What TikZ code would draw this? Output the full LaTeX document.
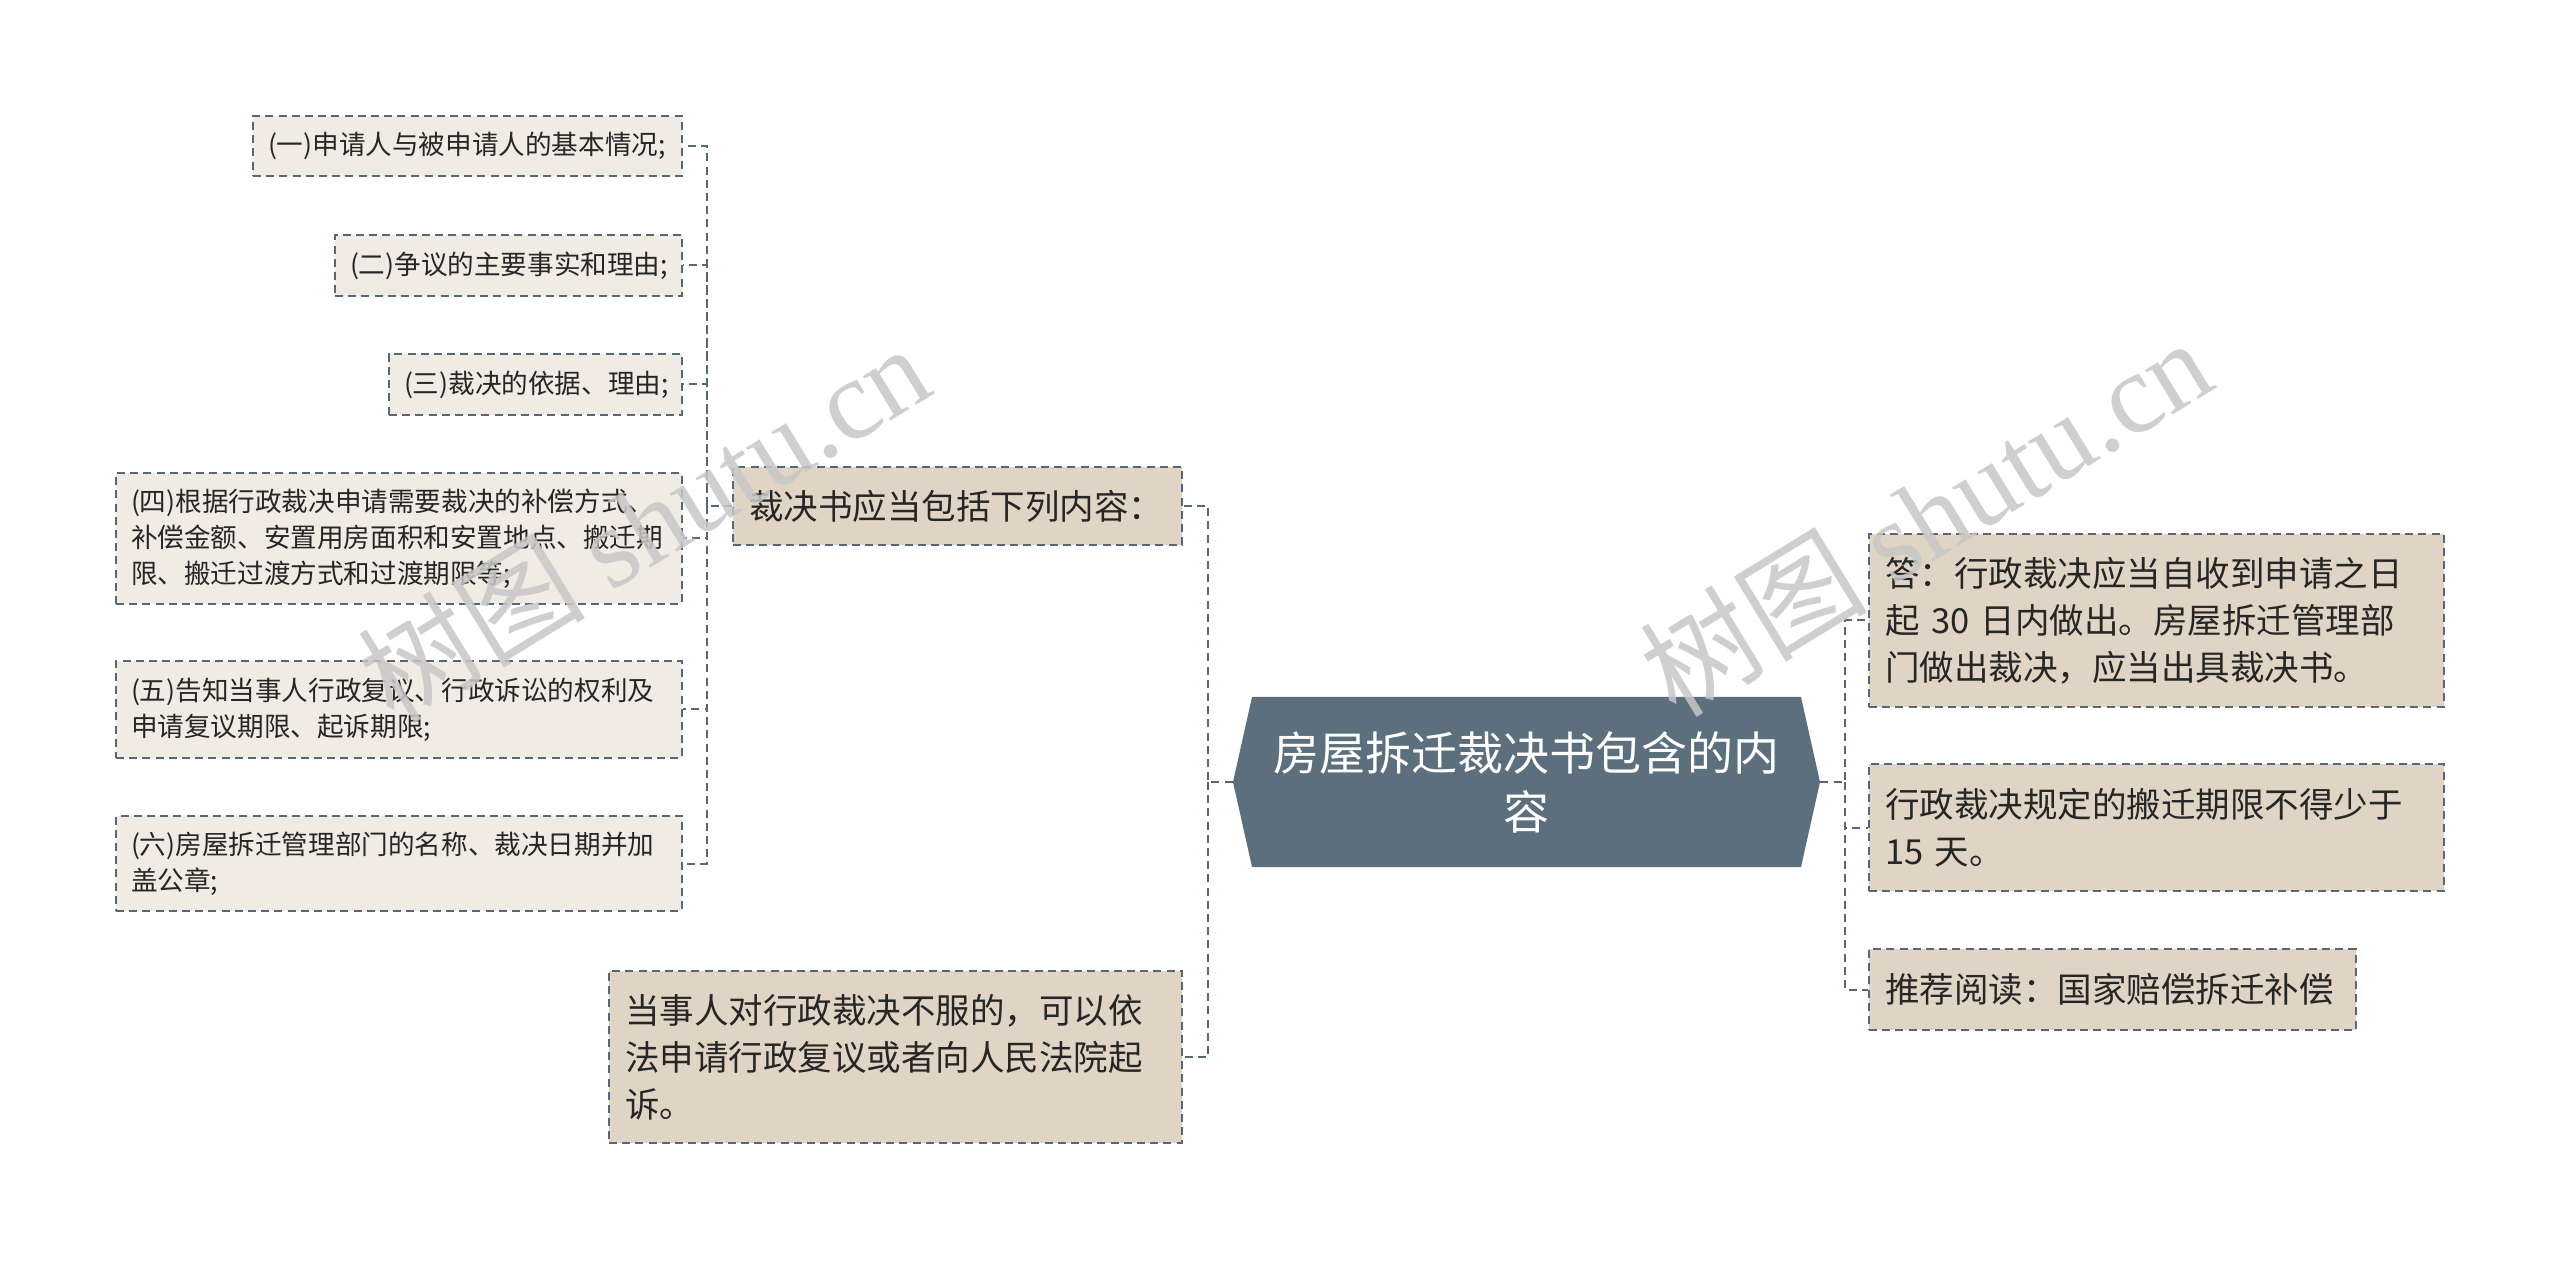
\documentclass[tikz,border=0pt]{standalone}
\usepackage{fontspec}
\setmainfont{Noto Sans CJK SC}
\newfontfamily\wmserif{Liberation Serif}
\definecolor{linec}{HTML}{56677A}
\definecolor{hexc}{HTML}{5C6F7C}
\definecolor{lightbox}{HTML}{F0ECE4}
\definecolor{darkbox}{HTML}{E0D5C4}
\definecolor{txtc}{HTML}{262626}
\begin{document}
\begin{tikzpicture}[x=0.5pt,y=-0.5pt,
  dsh/.style={dash pattern=on 4pt off 2.6pt, line width=1pt},
  smallbox/.style={draw=linec, dsh, fill=lightbox, inner xsep=7.5pt, inner ysep=0pt,
     align=left, text=txtc, font=\fontsize{13.3pt}{18pt}\selectfont},
  bigbox/.style={draw=linec, dsh, fill=darkbox, inner xsep=8pt, inner ysep=0pt,
     align=left, text=txtc, font=\fontsize{17.25pt}{23.5pt}\selectfont},
  conn/.style={draw=linec, dsh},
  wm/.style={text=black!22, font=\fontsize{57pt}{64pt}\selectfont, inner sep=0pt}]
\fill[white] (0,0) rectangle (2560,1261);
\useasboundingbox (0,0) rectangle (2560,1261);

% central hexagon
\fill[hexc] (1252,697) -- (1801,697) -- (1820,782) -- (1801,867) -- (1252,867) -- (1233,782) -- cycle;
\node[minimum width=293.5pt, minimum height=85pt, inner sep=0pt, text width=272pt, align=center,
  text=white, font=\fontsize{23pt}{29.5pt}\selectfont] (c) at (1526.5,782)
  {房屋拆迁裁决书包含的内\\容};

% left level 1
\node[bigbox, minimum width=224.5pt, minimum height=39pt, text width=208.5pt] (k) at (957.5,506)
  {裁决书应当包括下列内容：};
\node[bigbox, minimum width=286.5pt, minimum height=86pt, text width=270.5pt] (d) at (895.5,1057)
  {当事人对行政裁决不服的，可以依\\法申请行政复议或者向人民法院起\\诉。};

% left level 2
\node[smallbox, minimum width=214.5pt, minimum height=30pt, text width=199.5pt] (a1) at (467.5,146)
  {(一)申请人与被申请人的基本情况;};
\node[smallbox, minimum width=173.5pt, minimum height=30.5pt, text width=158.5pt] (a2) at (508.5,265.5)
  {(二)争议的主要事实和理由;};
\node[smallbox, minimum width=146.5pt, minimum height=30.5pt, text width=131.5pt] (a3) at (535.5,384.5)
  {(三)裁决的依据、理由;};
\node[smallbox, minimum width=283pt, minimum height=65.5pt, text width=268pt] (a4) at (399,538.5)
  {(四)根据行政裁决申请需要裁决的补偿方式、\\补偿金额、安置用房面积和安置地点、搬迁期\\限、搬迁过渡方式和过渡期限等;};
\node[smallbox, minimum width=283pt, minimum height=48.5pt, text width=268pt] (a5) at (399,709.5)
  {(五)告知当事人行政复议、行政诉讼的权利及\\申请复议期限、起诉期限;};
\node[smallbox, minimum width=283pt, minimum height=47.5pt, text width=268pt] (a6) at (399,863.5)
  {(六)房屋拆迁管理部门的名称、裁决日期并加\\盖公章;};

% right
\node[bigbox, minimum width=287.5pt, minimum height=86.5pt, text width=271.5pt] (r1) at (2156.5,620.5)
  {答：行政裁决应当自收到申请之日\\起 30 日内做出。房屋拆迁管理部\\门做出裁决，应当出具裁决书。};
\node[bigbox, minimum width=287.5pt, minimum height=63.5pt, text width=271.5pt] (r2) at (2156.5,827.5)
  {行政裁决规定的搬迁期限不得少于\\15 天。};
\node[bigbox, minimum width=243.5pt, minimum height=40.5pt, text width=227.5pt] (r3) at (2112.5,989.5)
  {推荐阅读：国家赔偿拆迁补偿};

% connectors
\coordinate (jl) at (1208,782);
\coordinate (jr) at (1845,782);
\coordinate (jk) at (707,506);
\draw[conn] (c.west) -- (jl) |- (k.east);
\draw[conn] (jl) |- (d.east);
\draw[conn] (k.west) -- (jk) |- (a1.east);
\draw[conn] (jk) |- (a2.east);
\draw[conn] (jk) |- (a3.east);
\draw[conn] (jk) |- (a4.east);
\draw[conn] (jk) |- (a5.east);
\draw[conn] (jk) |- (a6.east);
\draw[conn] (c.east) -- (jr) |- (r1.west);
\draw[conn] (jr) |- (r2.west);
\draw[conn] (jr) |- (r3.west);

% watermarks
\node[wm, rotate=31.5, text opacity=0.85] (w1) at (643,522) {树图 {\wmserif shutu.cn}};
\node[wm, rotate=31.5, text opacity=0.85] (w2) at (1925,516) {树图 {\wmserif shutu.cn}};
\end{tikzpicture}
\end{document}
